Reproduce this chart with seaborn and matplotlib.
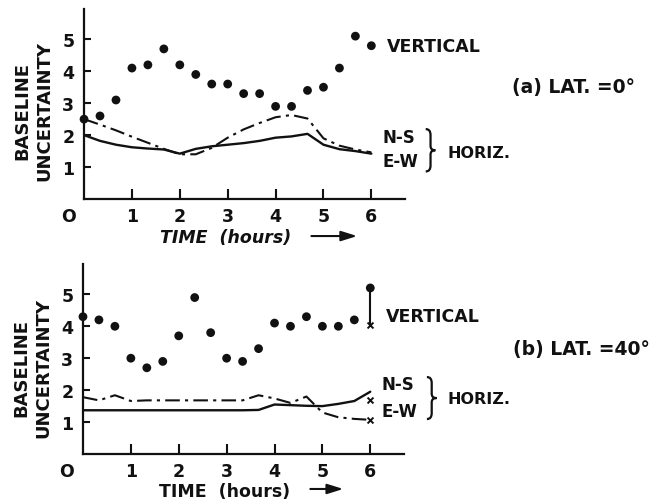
import numpy as np
import pandas as pd
import matplotlib
matplotlib.use("Agg")
import matplotlib.pyplot as plt
import seaborn as sns
from matplotlib.transforms import ScaledTranslation
from matplotlib.path import Path
from matplotlib.patches import PathPatch

# ---------------- data ----------------
hours = [0, 1/3, 2/3, 1, 4/3, 5/3, 2, 7/3, 8/3, 3, 10/3, 11/3, 4, 13/3, 14/3, 5, 16/3, 17/3, 6]

# (a) LAT = 0 deg
vert_a = [2.5, 2.6, 3.1, 4.1, 4.2, 4.7, 4.2, 3.9, 3.6, 3.6, 3.3, 3.3, 2.9, 2.9, 3.4, 3.5, 4.1, 5.1, 4.8]
ns_a = [2.0, 1.82, 1.70, 1.62, 1.58, 1.55, 1.42, 1.57, 1.65, 1.70, 1.75, 1.82, 1.92, 1.96, 2.04, 1.70, 1.56, 1.50, 1.42]
ew_a = [2.5, 2.33, 2.15, 1.95, 1.76, 1.57, 1.40, 1.40, 1.60, 1.92, 2.18, 2.38, 2.56, 2.63, 2.52, 1.90, 1.67, 1.55, 1.46]

# (b) LAT = 40 deg
vert_b = [4.3, 4.2, 4.0, 3.0, 2.7, 2.9, 3.7, 4.9, 3.8, 3.0, 2.9, 3.3, 4.1, 4.0, 4.3, 4.0, 4.0, 4.2, 5.2]
ns_b = [1.37, 1.37, 1.37, 1.37, 1.37, 1.37, 1.37, 1.37, 1.37, 1.37, 1.37, 1.38, 1.55, 1.53, 1.51, 1.50, 1.57, 1.66, 1.95]
ew_b = [1.78, 1.68, 1.84, 1.66, 1.68, 1.68, 1.68, 1.68, 1.68, 1.68, 1.68, 1.84, 1.74, 1.60, 1.80, 1.30, 1.15, 1.10, 1.07]
# end-point "x" markers at 6 hours (panel b)
end_x_vert_b = 4.05
end_x_ns_b = 1.68
end_x_ew_b = 1.07

x_ticks = [0, 1, 2, 3, 4, 5, 6]
x_tick_labels = ["O", "1", "2", "3", "4", "5", "6"]
y_ticks = [1, 2, 3, 4, 5]
y_tick_labels = ["1", "2", "3", "4", "5"]

# ---------------- style ----------------
sns.set_theme(style="ticks")
plt.rcParams["font.family"] = ["DejaVu Sans"]
plt.rcParams["font.weight"] = "bold"

INK = "#111111"
DASHDOT = (0, (7, 2.5, 1.5, 2.5))

fig = plt.figure(figsize=(6.67, 5.02), dpi=100)
fig.patch.set_facecolor("white")
ax_a = fig.add_axes([0.126, 0.6016, 0.481, 0.3785])
ax_b = fig.add_axes([0.1244, 0.0936, 0.481, 0.3785])


def brace(ax, x0, y_bot, y_top, w=0.03):
    """Right-pointing curly brace in axes fraction coordinates."""
    ym = 0.5 * (y_bot + y_top)
    h = y_top - y_bot
    xm = x0 + 0.5 * w
    verts = [
        (x0, y_top), (xm, y_top), (xm, y_top - 0.14 * h),
        (xm, ym + 0.1 * h),
        (xm, ym), (x0 + w, ym),
        (xm, ym), (xm, ym - 0.1 * h),
        (xm, y_bot + 0.14 * h),
        (xm, y_bot), (x0, y_bot),
    ]
    codes = [Path.MOVETO, Path.CURVE3, Path.CURVE3,
             Path.LINETO,
             Path.CURVE3, Path.CURVE3,
             Path.CURVE3, Path.CURVE3,
             Path.LINETO,
             Path.CURVE3, Path.CURVE3]
    ax.add_patch(PathPatch(Path(verts, codes), fill=False, lw=1.6,
                           edgecolor=INK, transform=ax.transAxes,
                           clip_on=False))


def draw_panel(ax, vert, ns, ew, italic_label, ylab_y, xlab_y, arrow_y, arrow_x1):
    ax.set_facecolor("white")
    sns.lineplot(x=hours, y=ns, ax=ax, color=INK, lw=1.7, estimator=None)
    sns.lineplot(x=hours, y=ew, ax=ax, color=INK, lw=1.5, estimator=None,
                 linestyle=DASHDOT)
    sns.scatterplot(x=hours, y=vert, ax=ax, color=INK, s=40, edgecolor="none",
                    zorder=5, clip_on=False)
    ax.set_xlim(0, 6.7)
    ax.set_ylim(0, 5.95)
    ax.set_xticks(x_ticks)
    ax.set_xticklabels(x_tick_labels)
    ax.set_yticks(y_ticks)
    ax.set_yticklabels(y_tick_labels)
    for s in ["top", "right"]:
        ax.spines[s].set_visible(False)
    for s in ["left", "bottom"]:
        ax.spines[s].set_color(INK)
        ax.spines[s].set_linewidth(1.6)
    ax.tick_params(axis="x", direction="in", length=7, width=1.5, pad=6,
                   labelsize=12.5, colors=INK)
    ax.tick_params(axis="y", direction="in", length=5, width=1.5, pad=7,
                   labelsize=12.5, colors=INK)
    # origin label "O" shifted left of the axis
    lab0 = ax.get_xticklabels()[0]
    lab0.set_transform(lab0.get_transform() +
                       ScaledTranslation(-16 / 100, 0, fig.dpi_scale_trans))
    ax.xaxis.get_major_ticks()[0].tick1line.set_visible(False)
    ax.set_ylabel("BASELINE\nUNCERTAINTY", fontsize=13, color=INK,
                  linespacing=1.3, fontweight="bold")
    ax.yaxis.set_label_coords(-0.095, ylab_y)
    ax.set_xlabel("TIME  (hours)", fontsize=12.5, color=INK, fontweight="bold",
                  style="italic" if italic_label else "normal")
    ax.xaxis.set_label_coords(0.44, xlab_y)
    ax.annotate("", xy=(arrow_x1, arrow_y), xytext=(0.70, arrow_y),
                xycoords="axes fraction",
                arrowprops=dict(arrowstyle="-|>,head_length=0.8,head_width=0.25",
                                color=INK, lw=1.5))


draw_panel(ax_a, vert_a, ns_a, ew_a, True, 0.47, -0.155, -0.195, 0.86)
draw_panel(ax_b, vert_b, ns_b, ew_b, False, 0.46, -0.145, -0.184, 0.82)

# end markers in panel (b)
ax_b.vlines(hours[-1], end_x_vert_b, vert_b[-1], color=INK, lw=1.5)
sns.scatterplot(x=[hours[-1]] * 3, y=[end_x_vert_b, end_x_ns_b, end_x_ew_b],
                ax=ax_b, marker="x", s=18, color=INK, linewidth=1.4,
                zorder=6, clip_on=False)

# annotations
kw = dict(fontsize=12.5, color=INK, va="center", ha="left", clip_on=False,
          fontweight="bold")
kw_lat = dict(kw, fontsize=13.5)
kw_ns = dict(kw, fontsize=12)
kw_h = dict(kw, fontsize=11.5)

ax_a.text(0.944, 0.805, "VERTICAL", transform=ax_a.transAxes, **kw)
ax_a.text(1.335, 0.59, "(a) LAT. =0°", transform=ax_a.transAxes, **kw_lat)
ax_a.text(0.93, 0.325, "N-S", transform=ax_a.transAxes, **kw_ns)
ax_a.text(0.93, 0.20, "E-W", transform=ax_a.transAxes, **kw_ns)
brace(ax_a, 1.065, 0.145, 0.368)
ax_a.text(1.132, 0.247, "HORIZ.", transform=ax_a.transAxes, **kw_h)

ax_b.text(0.944, 0.725, "VERTICAL", transform=ax_b.transAxes, **kw)
ax_b.text(1.34, 0.553, "(b) LAT. =40°", transform=ax_b.transAxes, **kw_lat)
ax_b.text(0.93, 0.368, "N-S", transform=ax_b.transAxes, **kw_ns)
ax_b.text(0.93, 0.226, "E-W", transform=ax_b.transAxes, **kw_ns)
brace(ax_b, 1.072, 0.184, 0.405)
ax_b.text(1.137, 0.29, "HORIZ.", transform=ax_b.transAxes, **kw_h)

fig.savefig("out.png", dpi=100, facecolor="white")
